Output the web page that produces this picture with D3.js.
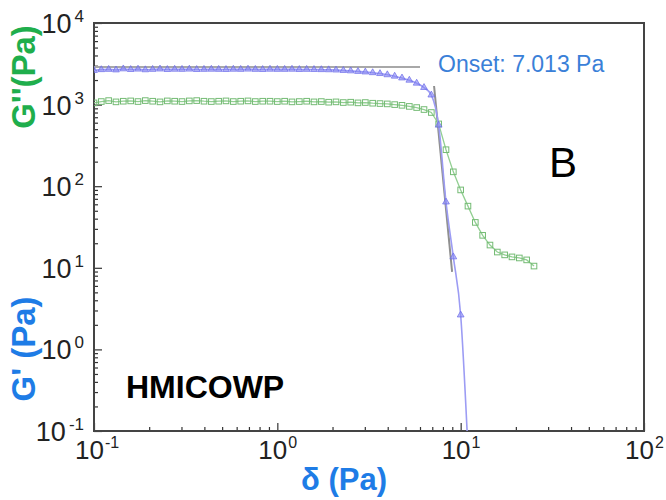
<!DOCTYPE html>
<html lang="en">
<head>
  <meta charset="UTF-8">
  <title>HMICOWP amplitude sweep</title>
  <script src="https://cdn.jsdelivr.net/npm/d3@7"></script>
  <style>
    body { margin: 0; background: #fff; }
    svg text { font-family: "Liberation Sans", Arial, sans-serif; }
  </style>
</head>
<body>
  <script>

    // shear stress (Pa), 25 points per decade
    const stress = [
      0.1, 0.1096, 0.1202, 0.1318, 0.1445, 0.1585, 0.1738, 0.1905, 0.2089, 0.2291,
      0.2512, 0.2754, 0.3020, 0.3311, 0.3631, 0.3981, 0.4365, 0.4786, 0.5248, 0.5754,
      0.6310, 0.6918, 0.7586, 0.8318, 0.9120,
      1.0, 1.096, 1.202, 1.318, 1.445, 1.585, 1.738, 1.905, 2.089, 2.291,
      2.512, 2.754, 3.020, 3.311, 3.631, 3.981, 4.365, 4.786, 5.248, 5.754,
      6.310, 6.918, 7.586, 8.318, 9.120,
      10.0, 10.96, 12.02, 13.18, 14.45, 15.85, 17.38, 19.05, 20.89, 22.91, 25.12
    ];

    // G' (blue triangles)
    const gPrime = [
      2620, 2680, 2700, 2660, 2740, 2690, 2720, 2670, 2700, 2730,
      2690, 2710, 2700, 2720, 2690, 2700, 2710, 2700, 2690, 2710,
      2700, 2720, 2700, 2690, 2710,
      2700, 2700, 2710, 2690, 2700, 2690, 2680, 2670, 2650, 2620,
      2590, 2550, 2510, 2460, 2400, 2320, 2230, 2120, 1990, 1830,
      1620, 1310, 560, 64, 13.6,
      2.64, 0.06
    ];

    // G'' (green squares)
    const gDouble = [
      1050, 1090, 1120, 1080, 1100, 1110, 1090, 1120, 1100, 1080,
      1110, 1100, 1090, 1110, 1120, 1100, 1090, 1100, 1110, 1090,
      1100, 1110, 1090, 1100, 1100,
      1090, 1100, 1080, 1090, 1100, 1080, 1090, 1070, 1080, 1060,
      1070, 1050, 1060, 1040, 1030, 1020, 1000, 980, 950, 920,
      870, 800, 580, 280, 150,
      90, 57, 36, 25, 19, 15.6, 14.4, 13.6, 13.2, 12.5, 10.5
    ];

    // onset construction lines (plateau and tangent)
    const plateauLine = [[0.1, 2890], [6.0, 2890]];
    const tangentLine = [[7.16, 1690], [8.98, 8.9]];

    const xTicks = [0.1, 1, 10, 100];
    const yTicks = [0.1, 1, 10, 100, 1000, 10000];

    const width = 666, height = 500;
    const margin = { top: 23, right: 22, bottom: 69, left: 94 };

    const svg = d3.select("body").append("svg")
      .attr("width", width)
      .attr("height", height);

    const x = d3.scaleLog().domain([0.1, 100]).range([margin.left, width - margin.right]);
    const y = d3.scaleLog().domain([0.1, 10000]).range([height - margin.bottom, margin.top]);

    svg.append("clipPath").attr("id", "plot")
      .append("rect")
      .attr("x", x(0.1)).attr("y", y(10000))
      .attr("width", x(100) - x(0.1)).attr("height", y(0.1) - y(10000));

    // axes: ticks point into the plot
    const minorX = x.ticks().filter(d => !xTicks.includes(d));
    const minorY = y.ticks().filter(d => !yTicks.includes(d));

    const xAxis = svg.append("g").attr("transform", `translate(0,${y(0.1)})`);
    xAxis.call(d3.axisBottom(x).tickValues(xTicks).tickSize(-8).tickFormat(""));
    xAxis.append("g").call(d3.axisBottom(x).tickValues(minorX).tickSize(-4).tickFormat(""));

    const yAxis = svg.append("g").attr("transform", `translate(${x(0.1)},0)`);
    yAxis.call(d3.axisLeft(y).tickValues(yTicks).tickSize(-8).tickFormat(""));
    yAxis.append("g").call(d3.axisLeft(y).tickValues(minorY).tickSize(-4).tickFormat(""));

    svg.selectAll(".domain").remove();
    svg.selectAll(".tick line").attr("stroke", "#333").attr("stroke-width", 1.2);

    // frame
    svg.append("rect")
      .attr("x", x(0.1)).attr("y", y(10000))
      .attr("width", x(100) - x(0.1)).attr("height", y(0.1) - y(10000))
      .attr("fill", "none")
      .attr("stroke", "#444")
      .attr("stroke-width", 2);

    // tick labels as 10 with superscript exponent
    const exp = d => Math.round(Math.log10(d)).toString();

    const xl = svg.append("g").selectAll("text").data(xTicks).enter().append("text")
      .attr("x", d => x(d) - 19)
      .attr("y", y(0.1) + 28)
      .attr("fill", "#222")
      .attr("font-size", 26);
    xl.append("tspan").text("10");
    xl.append("tspan").attr("dy", -11).attr("dx", 1).attr("font-size", 16).text(exp);

    const yl = svg.append("g").selectAll("text").data(yTicks).enter().append("text")
      .attr("x", x(0.1) - 10)
      .attr("y", d => y(d) + 10)
      .attr("text-anchor", "end")
      .attr("fill", "#222")
      .attr("font-size", 27);
    yl.append("tspan").text("10");
    yl.append("tspan").attr("dy", -11).attr("dx", 3).attr("font-size", 17).text(exp);

    // construction lines
    const line = d3.line().x(d => x(d[0])).y(d => y(d[1]));
    const plot = svg.append("g").attr("clip-path", "url(#plot)");

    plot.append("path").datum(plateauLine)
      .attr("d", line).attr("fill", "none")
      .attr("stroke", "#a8a8a8").attr("stroke-width", 2);
    plot.append("path").datum(tangentLine)
      .attr("d", line).attr("fill", "none")
      .attr("stroke", "#909090").attr("stroke-width", 2);

    // G'' series
    const green = stress.slice(0, gDouble.length).map((s, i) => [s, gDouble[i]]);
    plot.append("path").datum(green)
      .attr("d", line).attr("fill", "none")
      .attr("stroke", "#92cf92").attr("stroke-width", 1.3);
    plot.append("g").selectAll("rect").data(green).enter().append("rect")
      .attr("x", d => x(d[0]) - 2.8)
      .attr("y", d => y(d[1]) - 2.8)
      .attr("width", 5.6).attr("height", 5.6)
      .attr("fill", "none")
      .attr("stroke", "#74bb74")
      .attr("stroke-width", 1);

    // G' series
    const blue = stress.slice(0, gPrime.length).map((s, i) => [s, gPrime[i]]);
    plot.append("path").datum(blue)
      .attr("d", line.curve(d3.curveMonotoneX)).attr("fill", "none")
      .attr("stroke", "#9c9cf4").attr("stroke-width", 1.6);
    const tri = d3.symbol().type(d3.symbolTriangle).size(20);
    plot.append("g").selectAll("path").data(blue).enter().append("path")
      .attr("d", tri)
      .attr("transform", d => `translate(${x(d[0])},${y(d[1])})`)
      .attr("fill", "#8a8af2")
      .attr("fill-opacity", 0.6)
      .attr("stroke", "#6a6aea")
      .attr("stroke-width", 0.7);

    // annotations
    svg.append("text")
      .attr("x", 438).attr("y", 72)
      .attr("fill", "#3a80d8")
      .attr("font-size", 23)
      .text("Onset: 7.013 Pa");

    svg.append("text")
      .attr("x", 549).attr("y", 177)
      .attr("fill", "#000")
      .attr("font-size", 42)
      .text("B");

    svg.append("text")
      .attr("x", 126).attr("y", 398)
      .attr("fill", "#000")
      .attr("font-size", 32)
      .attr("font-weight", "bold")
      .text("HMICOWP");

    // axis titles
    svg.append("text")
      .attr("transform", "translate(35,77) rotate(-90)")
      .attr("text-anchor", "middle")
      .attr("fill", "#1fae4c")
      .attr("font-size", 33)
      .attr("font-weight", "bold")
      .text("G''(Pa)");

    svg.append("text")
      .attr("transform", "translate(35,349) rotate(-90)")
      .attr("text-anchor", "middle")
      .attr("fill", "#1e7ce6")
      .attr("font-size", 33)
      .attr("font-weight", "bold")
      .text("G' (Pa)");

    svg.append("text")
      .attr("x", 344).attr("y", 490)
      .attr("text-anchor", "middle")
      .attr("fill", "#1e7ce6")
      .attr("font-size", 31)
      .attr("font-weight", "bold")
      .text("δ (Pa)");
  </script>
</body>
</html>
